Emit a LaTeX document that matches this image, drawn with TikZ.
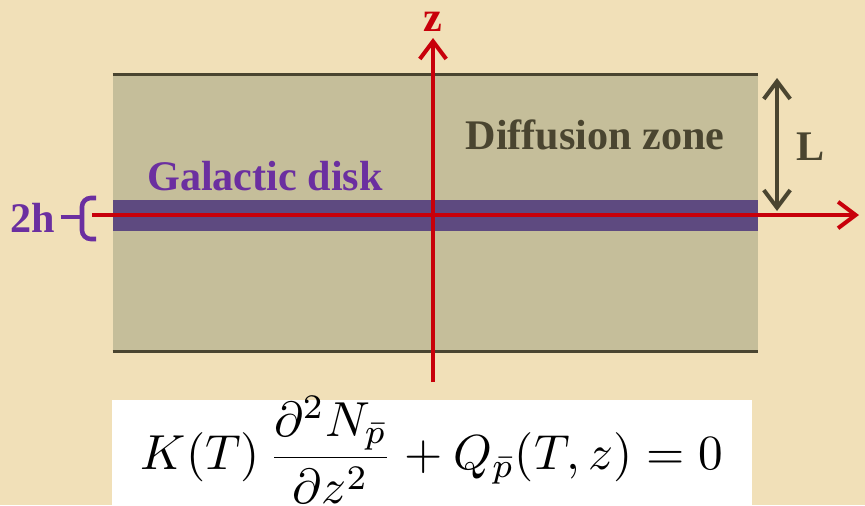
\documentclass[tikz,border=0pt]{standalone}
\usepackage[no-math]{fontspec}
\newfontfamily\lblfont{Liberation Serif}[Scale=1]
\usetikzlibrary{arrows.meta}
\definecolor{parch}{HTML}{F1E0B8}
\definecolor{zone}{HTML}{C5BE9A}
\definecolor{olive}{HTML}{4A4530}
\definecolor{disk}{HTML}{5E4A80}
\definecolor{violet}{HTML}{6B2FA0}
\definecolor{axis}{HTML}{C8000A}

\begin{document}
\begin{tikzpicture}[x=0.02cm,y=-0.02cm,
    lbl/.style={font=\lblfont\bfseries\fontsize{24}{26}\selectfont,inner sep=0pt},
    redaxis/.style={axis,line width=2.3pt,-{Straight Barb[length=10pt,width=15pt]}}]
  \fill[parch] (0,0) rectangle (865,505);
  \useasboundingbox (0,0) rectangle (865,505);
  % diffusion zone and disk
  \node[fill=zone,inner sep=0pt,minimum width=12.9cm,minimum height=5.52cm] (zone) at (435.5,213) {};
  \draw[olive,line width=1.7pt] (zone.north west)--(zone.north east) (zone.south west)--(zone.south east);
  \node[fill=disk,inner sep=0pt,minimum width=12.9cm,minimum height=0.62cm] (disk) at (435.5,215.5) {};
  \node[lbl,olive] (dz) at (595,135) {Diffusion zone};
  \node[lbl,violet] (gd) at (265,176) {Galactic disk};
  % axes
  \coordinate (xs) at (92,215); \coordinate (xe) at (859,215);
  \coordinate (zs) at (433,382); \coordinate (ze) at (433,38);
  \draw[redaxis] (xs)--(xe);
  \draw[redaxis] (zs)--(ze);
  \node[lbl,axis] (z) at (433,22) {z};
  % half height L
  \coordinate (lt) at (777,78); \coordinate (lb) at (777,211);
  \draw[olive,line width=2.3pt,{Straight Barb[length=10pt,width=15pt]}-{Straight Barb[length=10pt,width=15pt]}] (lt)--(lb);
  \node[lbl,olive] (L) at (811,147) {L};
  % thickness 2h
  \node[lbl,violet] (twoh) at (33,218) {2h};
  \coordinate (bt) at (96,198); \coordinate (bb) at (96,239); \coordinate (bm) at (82,217);
  \draw[violet,line width=2.6pt,rounded corners=5pt] (bt) -| (bm) |- (bb);
  \draw[violet,line width=2.6pt] (twoh.east) ++(5,-1) -- (bm);
  % equation
  \fill[white] (112,400) rectangle (752,505);
  \node[scale=2.8] (eq) at (432,450) {$\displaystyle K(T)\,\frac{\partial^2 N_{\bar p}}{\partial z^2}+Q_{\bar p}(T,z)=0$};
\end{tikzpicture}
\end{document}
